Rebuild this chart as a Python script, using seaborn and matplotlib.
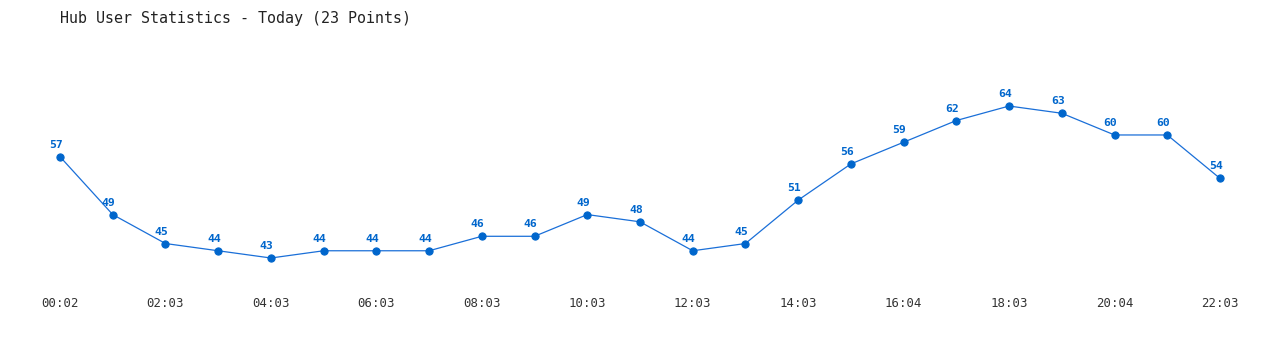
import matplotlib
matplotlib.use("Agg")
import matplotlib.pyplot as plt
import seaborn as sns
import pandas as pd

times = ["00:02", "01:03", "02:03", "03:03", "04:03", "05:03", "06:03", "07:03",
         "08:03", "09:03", "10:03", "11:03", "12:03", "13:03", "14:03", "15:03",
         "16:04", "17:03", "18:03", "19:03", "20:04", "21:03", "22:03"]
users = [57, 49, 45, 44, 43, 44, 44, 44, 46, 46, 49, 48, 44, 45, 51, 56, 59, 62, 64, 63, 60, 60, 54]
tick_labels = ["00:02", "02:03", "04:03", "06:03", "08:03", "10:03",
               "12:03", "14:03", "16:04", "18:03", "20:04", "22:03"]
title = "Hub User Statistics - Today (23 Points)"

sns.set_style("white")
plt.rcParams['font.family'] = ['DejaVu Sans Mono', 'DejaVu Sans']

df = pd.DataFrame({"idx": range(len(users)), "users": users, "time": times})

W, H = 1280, 350
fig = plt.figure(figsize=(W / 100, H / 100), dpi=100)
# axes: x 60..1220 px, y 60..280 px
ax = fig.add_axes([60 / W, (H - 280) / H, 1160 / W, 220 / H])

line_color = "#1a6fd8"
mark_color = "#0066cc"
sns.lineplot(data=df, x="idx", y="users", ax=ax, color=line_color, linewidth=0.9,
             marker="o", markersize=5.2, markerfacecolor=mark_color,
             markeredgecolor=mark_color, clip_on=False)

for i, v in enumerate(users):
    ax.annotate(str(v), (i, v), xytext=(-3, 5), textcoords="offset points",
                ha="center", va="bottom", fontsize=8.2, fontweight="bold",
                color=mark_color, annotation_clip=False)

ax.set_xlim(0, len(users) - 1)
ax.set_ylim(39.96, 70.36)
ax.set_xticks(range(0, len(users), 2))
ax.set_xticklabels(tick_labels)
ax.set_yticks([])
ax.tick_params(axis="x", length=0, pad=12, labelsize=8.9, labelcolor="#333333")
ax.set_xlabel("")
ax.set_ylabel("")
for s in ax.spines.values():
    s.set_visible(False)

fig.text(60 / W, 1 - 18 / H, title, ha="left", va="center", fontsize=10.8,
         color="#222222")

fig.savefig("out.png", dpi=100, facecolor="white")
